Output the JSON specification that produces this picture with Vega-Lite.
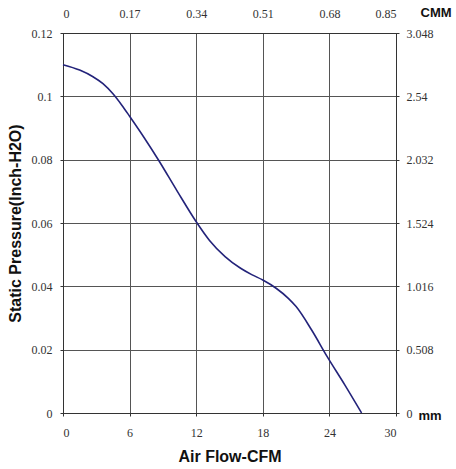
{
  "$schema": "https://vega.github.io/schema/vega-lite/v6.json",
  "width": 333,
  "height": 380,
  "autosize": "none",
  "padding": {"left": 63, "top": 33, "right": 60, "bottom": 56},
  "background": "white",
  "config": {
    "view": {"stroke": "#333333", "strokeWidth": 1},
    "axis": {"labelFont": "Liberation Serif", "labelFontSize": 12, "labelColor": "#333333"}
  },
  "layer": [
    {
      "data": {
        "values": [
          {"cfm": 0, "pressure": 0.1100},
          {"cfm": 1.5, "pressure": 0.1083},
          {"cfm": 2.7, "pressure": 0.1062},
          {"cfm": 3.6, "pressure": 0.1040},
          {"cfm": 4.5, "pressure": 0.1008},
          {"cfm": 5.3, "pressure": 0.0972},
          {"cfm": 6.0, "pressure": 0.0937},
          {"cfm": 7.3, "pressure": 0.0870},
          {"cfm": 8.6, "pressure": 0.0799},
          {"cfm": 10.3, "pressure": 0.0700},
          {"cfm": 12.0, "pressure": 0.0604},
          {"cfm": 13.2, "pressure": 0.0545},
          {"cfm": 14.6, "pressure": 0.0494},
          {"cfm": 16.0, "pressure": 0.0457},
          {"cfm": 17.0, "pressure": 0.0437},
          {"cfm": 18.0, "pressure": 0.0420},
          {"cfm": 19.2, "pressure": 0.0394},
          {"cfm": 20.3, "pressure": 0.0362},
          {"cfm": 21.0, "pressure": 0.0336},
          {"cfm": 22.4, "pressure": 0.0262},
          {"cfm": 23.8, "pressure": 0.0178},
          {"cfm": 25.4, "pressure": 0.0088},
          {"cfm": 26.9, "pressure": 0.0}
        ]
      },
      "mark": {"type": "line", "interpolate": "monotone", "color": "#23237a", "strokeWidth": 1.6},
      "encoding": {
        "x": {
          "field": "cfm", "type": "quantitative",
          "scale": {"domain": [0, 30], "nice": false},
          "axis": {
            "orient": "bottom", "title": "Air Flow-CFM",
            "values": [0, 6, 12, 18, 24, 30], "format": ".4~g",
            "grid": true, "gridColor": "#555555", "gridWidth": 1,
            "domainColor": "#333333", "tickColor": "#333333", "tickSize": 3,
            "labelPadding": 11,
            "titleFont": "Liberation Sans", "titleFontSize": 16, "titleFontWeight": "bold", "titleColor": "#111111", "titlePadding": 10
          }
        },
        "y": {
          "field": "pressure", "type": "quantitative",
          "scale": {"domain": [0, 0.12], "nice": false},
          "axis": {
            "orient": "left", "title": "Static Pressure(Inch-H2O)",
            "values": [0, 0.02, 0.04, 0.06, 0.08, 0.1, 0.12], "format": ".4~g",
            "grid": true, "gridColor": "#555555", "gridWidth": 1,
            "domainColor": "#333333", "tickColor": "#333333", "tickSize": 3,
            "labelPadding": 8,
            "titleFont": "Liberation Sans", "titleFontSize": 16, "titleFontWeight": "bold", "titleColor": "#111111", "titlePadding": 8
          }
        }
      }
    },
    {
      "data": {"values": [{"cmm": 0, "mm": 0}, {"cmm": 0.85, "mm": 3.048}]},
      "mark": {"type": "point", "opacity": 0},
      "encoding": {
        "x": {
          "field": "cmm", "type": "quantitative",
          "scale": {"domain": [0, 0.85], "nice": false, "zero": true},
          "axis": {
            "orient": "top", "title": "CMM",
            "values": [0, 0.17, 0.34, 0.51, 0.68, 0.85], "format": ".4~g",
            "grid": false, "domainColor": "#333333", "tickSize": 0,
            "labelPadding": 13,
            "titleFont": "Liberation Sans", "titleFontSize": 13, "titleFontWeight": "bold", "titleColor": "#111111",
            "titleAnchor": "start", "titleAlign": "left", "titleBaseline": "middle", "titleX": 357, "titleY": -21
          }
        },
        "y": {
          "field": "mm", "type": "quantitative",
          "scale": {"domain": [0, 3.048], "nice": false, "zero": true},
          "axis": {
            "orient": "right", "title": "mm",
            "values": [0, 0.508, 1.016, 1.524, 2.032, 2.54, 3.048], "format": ".4~g",
            "grid": false, "domainColor": "#333333", "tickColor": "#333333", "tickSize": 3,
            "labelPadding": 7,
            "titleFont": "Liberation Sans", "titleFontSize": 13, "titleFontWeight": "bold", "titleColor": "#111111",
            "titleAngle": 0, "titleAlign": "left", "titleBaseline": "middle", "titleX": 22, "titleY": 382
          }
        }
      }
    }
  ],
  "resolve": {
    "scale": {"x": "independent", "y": "independent"},
    "axis": {"x": "independent", "y": "independent"}
  }
}
